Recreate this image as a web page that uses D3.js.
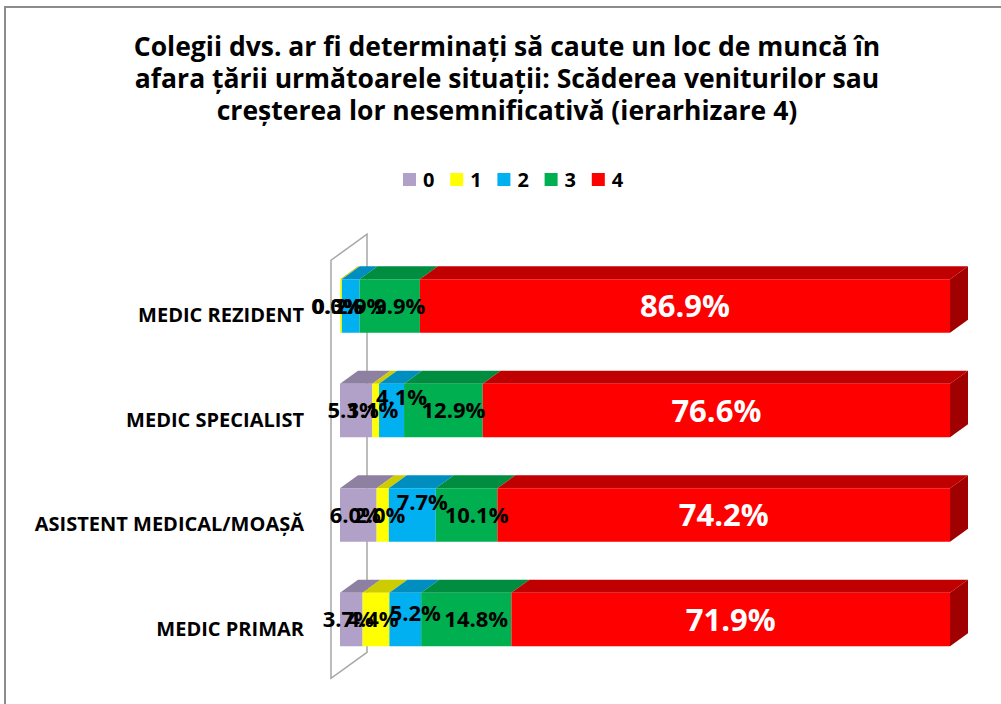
<!DOCTYPE html>
<html>
<head>
<meta charset="utf-8">
<script src="https://cdn.jsdelivr.net/npm/d3@7"></script>
<style>
  html, body { margin: 0; padding: 0; background: #fff; }
  svg { display: block; }
</style>
</head>
<body>
<svg id="chart" width="1001" height="704"></svg>
<script>
const titleLines = [
  "Colegii dvs. ar fi determinați să caute un loc de muncă în",
  "afara țării următoarele situații: Scăderea veniturilor sau",
  "creșterea lor nesemnificativă (ierarhizare 4)"
];
const categories = ["MEDIC REZIDENT", "MEDIC SPECIALIST", "ASISTENT MEDICAL/MOAȘĂ", "MEDIC PRIMAR"];
const seriesNames = ["0", "1", "2", "3", "4"];
const s0 = [0.0, 5.3, 6.0, 3.7];
const s1 = [0.3, 1.1, 2.0, 4.4];
const s2 = [2.9, 4.1, 7.7, 5.2];
const s3 = [9.9, 12.9, 10.1, 14.8];
const s4 = [86.9, 76.6, 74.2, 71.9];
const seriesValues = [s0, s1, s2, s3, s4];

const frontColors = ["#B1A0C7", "#FFFF00", "#00B0F0", "#00B050", "#FF0000"];
const topColors   = ["#8E80A0", "#CCCC00", "#008DC0", "#008D40", "#C00000"];
const sideColors  = ["#776A86", "#AAAA00", "#0075A0", "#007535", "#A00000"];

const svg = d3.select("#chart");
const FONT = "'Open Sans', Lato, 'DejaVu Sans', sans-serif";

// outer border
svg.append("rect").attr("x", 5).attr("y", 7).attr("width", 1010).attr("height", 720)
  .attr("fill", "none").attr("stroke", "#8c8c8c").attr("stroke-width", 2);

// title
svg.append("g").selectAll("text").data(titleLines).join("text")
  .attr("x", 507).attr("y", (d, i) => 56 + i * 32)
  .attr("text-anchor", "middle")
  .attr("font-family", FONT).attr("font-weight", "bold").attr("font-size", 26.5)
  .attr("fill", "#000").text(d => d);

// legend
const legend = svg.append("g").attr("transform", "translate(403,173)");
const li = legend.selectAll("g").data(seriesNames).join("g")
  .attr("transform", (d, i) => `translate(${i * 47.2},0)`);
li.append("rect").attr("width", 13).attr("height", 13).attr("fill", (d, i) => frontColors[i]);
li.append("text").attr("x", 20).attr("y", 14)
  .attr("font-family", FONT).attr("font-weight", "bold").attr("font-size", 20).text(d => d);

// scales
const x = d3.scaleLinear().domain([0, 100]).range([340, 950]);
const y = d3.scaleBand().domain(categories).range([253.75, 671.75])
  .paddingInner(0.488).paddingOuter(0.244);

// depth (full wall depth)
const DX = 36, DY = -26;
const bx = DX * 0.5, by = DY * 0.5;  // bar depth

// left wall (at value 0)
const x0 = x(0);
const wy0 = y.range()[0], wy1 = y.range()[1];
const wf = [x0 - DX * 0.25, -DY * 0.25];
const wb = [x0 + DX * 0.75, DY * 0.75];
svg.append("path")
  .attr("d", `M${wf[0]},${wy0 + wf[1]} L${wb[0]},${wy0 + wb[1]} L${wb[0]},${wy1 + wb[1]} L${wf[0]},${wy1 + wf[1]} Z`)
  .attr("fill", "none").attr("stroke", "#a6a6a6").attr("stroke-width", 1.5);

// category labels
svg.append("g").selectAll("text").data(categories).join("text")
  .attr("x", 304).attr("y", d => y(d) + y.bandwidth() / 2 + 16)
  .attr("text-anchor", "end")
  .attr("font-family", FONT).attr("font-weight", "bold").attr("font-size", 20)
  .attr("fill", "#000").text(d => d);

// stacked segments
const segs = [];
categories.forEach((c, ci) => {
  let acc = 0;
  seriesValues.forEach((vals, si) => {
    const v = vals[ci];
    segs.push({ c, ci, si, v, start: acc, end: acc + v });
    acc += v;
  });
});

const bars = svg.append("g");
categories.forEach(c => {
  const rows = segs.filter(s => s.c === c);
  const yt = y(c), h = y.bandwidth();
  rows.forEach(s => {
    const xa = x(s.start), xb = x(s.end);
    if (xb - xa <= 0) return;
    bars.append("path")
      .attr("d", `M${xa},${yt} L${xa + bx},${yt + by} L${xb + bx},${yt + by} L${xb},${yt} Z`)
      .attr("fill", topColors[s.si]);
    bars.append("rect").attr("x", xa).attr("y", yt).attr("width", xb - xa).attr("height", h)
      .attr("fill", frontColors[s.si]);
  });
  const last = rows[rows.length - 1];
  const xe = x(last.end);
  bars.append("path")
    .attr("d", `M${xe},${yt} L${xe + bx},${yt + by} L${xe + bx},${yt + h + by} L${xe},${yt + h} Z`)
    .attr("fill", sideColors[last.si]);
});

// value labels (Excel shifts crowded labels: blue/green to the right, blue upward)
const fmt = d3.format(".1f");
const nudgeY = d => (d.si === 2 && d.ci > 0) ? (d.ci === 3 ? -6 : -13) : 0;
const nudgeX = d => (d.si === 2 || d.si === 3) ? 10 : (d.si < 2 ? -3 : 0);
svg.append("g").selectAll("text").data(segs).join("text")
  .attr("x", d => x((d.start + d.end) / 2) + nudgeX(d))
  .attr("y", d => y(d.c) + y.bandwidth() / 2 + nudgeY(d))
  .attr("dy", "0.36em")
  .attr("text-anchor", "middle")
  .attr("font-family", FONT).attr("font-weight", "bold")
  .attr("font-size", d => d.si === 4 ? 31 : 22)
  .attr("fill", d => d.si === 4 ? "#fff" : "#000")
  .text(d => fmt(d.v) + "%");
</script>
</body>
</html>
